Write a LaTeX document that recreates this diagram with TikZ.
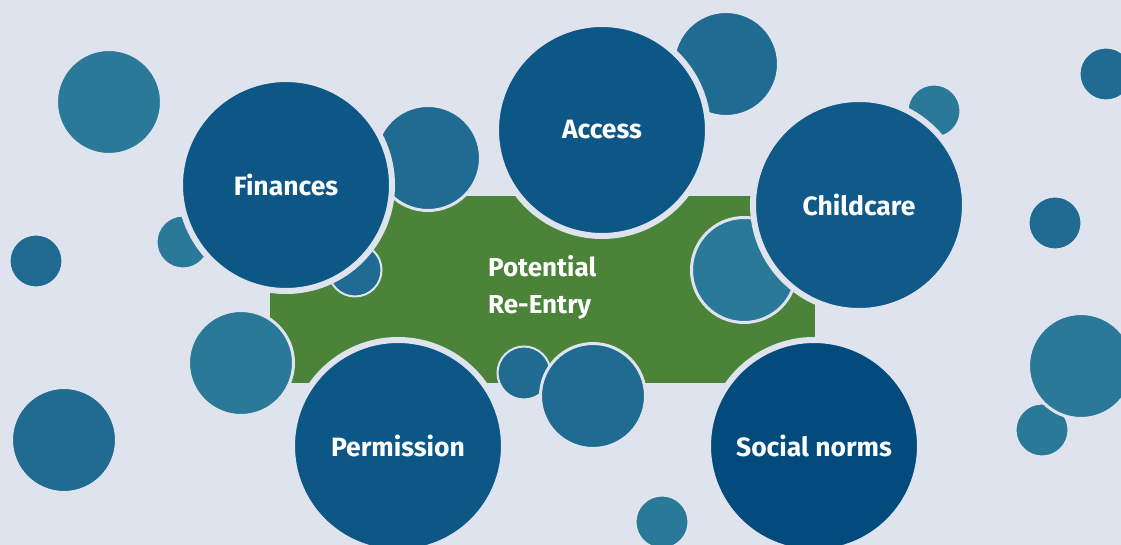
\documentclass[tikz,border=0pt]{standalone}
\usepackage{fontspec}
\setmainfont{Fira Sans}
\definecolor{bg}{HTML}{DFE3EE}
\definecolor{leaf}{HTML}{4B8438}
\definecolor{teal}{HTML}{2B7998}
\definecolor{sea}{HTML}{206B91}
\definecolor{deep}{HTML}{0C5786}
\definecolor{navy}{HTML}{024B7C}
\tikzset{
  big/.style={circle, draw=bg, line width=6pt, minimum size=212pt, inner sep=0pt,
    text=white, font=\bfseries\fontsize{26.5}{26.5}\selectfont},
  mid/.style={circle, draw=bg, line width=3pt, minimum size=105pt, inner sep=0pt},
  small/.style={circle, draw=bg, line width=2pt, minimum size=53pt, inner sep=0pt}
}
\begin{document}
\begin{tikzpicture}[x=1pt, y=-1pt]
    \fill[bg] (0, 0) rectangle (1121, 545);
    \useasboundingbox (0, 0) rectangle (1121, 545);

    % green field
    \fill[leaf] (270, 196) rectangle (815, 383);
    \node[white, font=\bfseries\fontsize{26}{37}\selectfont, align=left, anchor=west, inner sep=0pt] (re) at (488, 287) {Potential\\Re-Entry};

    % bubbles behind
    \node[small, fill=teal] (s1) at (183, 242) {};
    \node[mid, fill=sea] (m1) at (428, 158) {};
    \node[small, fill=sea] (s2) at (355, 270) {};
    \node[mid, fill=sea] (m2) at (726, 64) {};
    \node[small, fill=teal] (s3) at (934, 111) {};
    \node[mid, fill=teal] (m3) at (744, 270) {};
    \node[small, fill=sea] (s4) at (524, 373) {};
    \node[mid, fill=sea] (m4) at (593, 396) {};
    \node[small, fill=teal] (s5) at (1042, 430) {};
    \node[mid, fill=teal] (m5) at (1081, 366) {};

    % loose bubbles
    \node[mid, fill=teal] (m6) at (109, 102) {};
    \node[small, fill=sea] (s6) at (36, 261) {};
    \node[mid, fill=sea] (m7) at (64, 440) {};
    \node[mid, fill=teal] (m8) at (241, 363) {};
    \node[small, fill=teal] (s7) at (662, 522) {};
    \node[small, fill=sea] (s8) at (1055, 223) {};
    \node[small, fill=sea] (s9) at (1106, 74) {};

    % main bubbles
    \node[big, fill=deep] (fin) at (286, 185) {Finances};
    \node[big, fill=deep] (acc) at (602, 130) {Access};
    \node[big, fill=deep!85!sea] (child) at (859, 205) {Childcare};
    \node[big, fill=deep] (perm) at (398, 446) {Permission};
    \node[big, fill=navy] (soc) at (814, 446) {Social norms};

  \end{tikzpicture}
\end{document}
